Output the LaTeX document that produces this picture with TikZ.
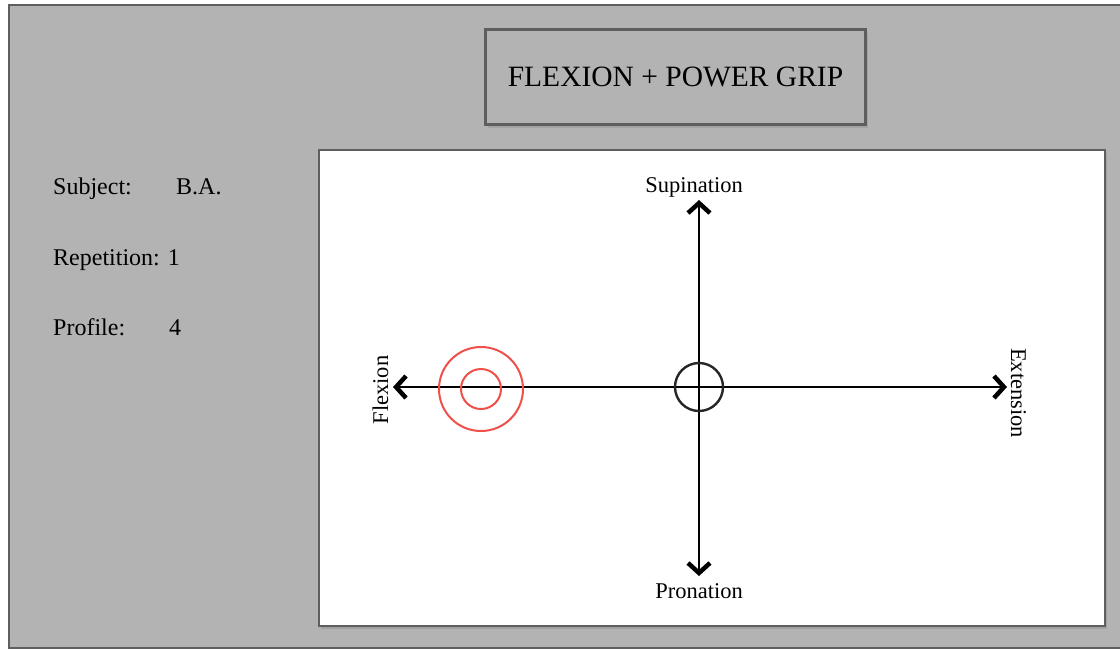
\documentclass[tikz,border=0pt]{standalone}
\usepackage{fontspec}
\setmainfont{Liberation Serif}
\usetikzlibrary{arrows.meta,shadows}

\definecolor{panelgray}{HTML}{B3B3B3}
\definecolor{framegray}{HTML}{5E5E5E}
\definecolor{ringred}{HTML}{F0504A}

\begin{document}
\begin{tikzpicture}[
  x=1pt, y=-1pt,
  frame/.style={draw=framegray, line width=2.8pt},
  lbl/.style={font=\fontsize{24}{26}\selectfont, anchor=base west, inner sep=0pt},
  axlbl/.style={font=\fontsize{22.5}{24}\selectfont, inner sep=0pt},
  barb/.tip={Straight Barb[length=10pt,width=22pt,line width=4.5pt]},
  axis/.style={line width=2pt, barb-barb},
]
\useasboundingbox (0,0) rectangle (1120,649);
% outer sheet
\draw[frame, fill=panelgray] (9,5) rectangle (1130,648);
% title
\node[frame, fill=panelgray, minimum width=380pt, minimum height=95pt,
  drop shadow={opacity=0.3, shadow xshift=2pt, shadow yshift=-3pt},
  font=\fontsize{29.5}{32}\selectfont] (title) at (675.5,77) {FLEXION + POWER GRIP};
% info block
\node[lbl] (subj) at (53,194) {Subject:};
\node[lbl] (subjval) at (176,194) {B.A.};
\node[lbl] (rep) at (53,265) {Repetition: 1};
\node[lbl] (prof) at (53,335) {Profile:};
\node[lbl] (profval) at (169,335) {4};
% plot panel
\node[draw=framegray, line width=2pt, fill=white, minimum width=786pt, minimum height=476pt,
  drop shadow={opacity=0.35, shadow xshift=2pt, shadow yshift=-3pt}] (panel) at (711.5,387.5) {};
% axes
\coordinate (origin) at (699,387);
\coordinate (supTip) at (699,200);
\coordinate (proTip) at (699,576);
\coordinate (flxTip) at (393,387);
\coordinate (extTip) at (1007,387);
\node[axlbl, anchor=base] (sup) at (694,192) {Supination};
\node[axlbl, anchor=base] (pro) at (699,598) {Pronation};
\node[axlbl, rotate=90, anchor=base] (flx) at (388,390) {Flexion};
\node[axlbl, rotate=-90, anchor=base] (ext) at (1011,393) {Extension};
\draw[axis] (proTip) -- (supTip);
\draw[axis] (flxTip) -- (extTip);
% markers
\draw[line width=2.4pt, black!85] (origin) circle (24);
\node[draw=ringred, line width=2pt, circle, minimum size=84pt] (outerRing) at (481,389) {};
\node[draw=ringred, line width=2pt, circle, minimum size=40pt] (innerRing) at (481,389) {};
\end{tikzpicture}
\end{document}
